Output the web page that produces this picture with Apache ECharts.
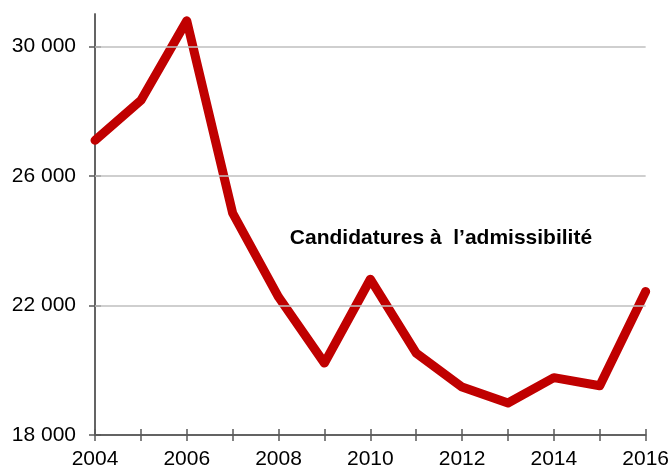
<!DOCTYPE html>
<html>
<head>
<meta charset="utf-8">
<script src="https://cdn.jsdelivr.net/npm/echarts@6/dist/echarts.min.js"></script>
<style>
    html, body {
        margin: 0;
        padding: 0;
        background: #fff;
    }
    #chart {
        width: 672px;
        height: 471px;
    }
</style>
</head>
<body>
<div id="chart"></div>
<script>
    var years = ['2004', '2005', '2006', '2007', '2008', '2009', '2010',
                 '2011', '2012', '2013', '2014', '2015', '2016'];
    var candidatures = [27100, 28330, 30790, 24850, 22260, 20220, 22810,
                        20530, 19480, 18990, 19770, 19520, 22430];
    var yTicks = [18000, 22000, 26000, 30000];
    var gridValues = [22000, 26000, 30000];
    var seriesName = 'Candidatures à  l’admissibilité';

    var axisGray = '#5a5a5a';
    var font = '"Liberation Sans", Arial, sans-serif';

    function fmt(v) {
        return String(v).replace(/\B(?=(\d{3})+(?!\d))/g, ' ');
    }

    var Chart = echarts.init(document.getElementById('chart'), null, {renderer: 'canvas'});

    var xBase = {
        type: 'category',
        data: years,
        boundaryGap: false,
        position: 'bottom',
        axisLine: {show: true, lineStyle: {color: axisGray, width: 1.5}},
        splitLine: {show: false}
    };
    var yBase = {
        type: 'value',
        min: 18000,
        max: 31000,
        interval: 4000,
        position: 'left',
        axisLine: {show: true, lineStyle: {color: axisGray, width: 1.5}},
        splitLine: {show: false}
    };

    var option = {
        animation: false,
        backgroundColor: '#fff',
        grid: {left: 95, right: 26, top: 14, bottom: 36, containLabel: false},
        xAxis: [
            echarts.util.merge({
                axisTick: {show: true, inside: false, length: 6, interval: 0,
                    lineStyle: {color: axisGray, width: 1.5}},
                axisLabel: {interval: 1, margin: 14, color: '#000',
                    fontSize: 21, fontFamily: font}
            }, xBase, true),
            echarts.util.merge({
                axisTick: {show: true, inside: true, length: 6, interval: 0,
                    lineStyle: {color: axisGray, width: 1.5}},
                axisLabel: {show: false}
            }, xBase, true)
        ],
        yAxis: [
            echarts.util.merge({
                axisTick: {show: true, inside: false, length: 6, customValues: yTicks,
                    lineStyle: {color: axisGray, width: 1.5}},
                axisLabel: {margin: 19, color: '#000', fontSize: 21, fontFamily: font,
                    customValues: yTicks, formatter: fmt}
            }, yBase, true),
            echarts.util.merge({
                axisTick: {show: true, inside: true, length: 6, customValues: yTicks,
                    lineStyle: {color: axisGray, width: 1.5}},
                axisLabel: {show: false}
            }, yBase, true)
        ],
        graphic: [{
            type: 'text',
            x: 441,
            y: 238,
            style: {
                text: seriesName,
                font: 'bold 21px "Liberation Sans", Arial, sans-serif',
                fill: '#000',
                textAlign: 'center',
                textVerticalAlign: 'middle'
            }
        }],
        series: [
            {
                // gridlines only
                type: 'line',
                data: [],
                z: 1,
                silent: true,
                markLine: {
                    silent: true,
                    symbol: ['none', 'none'],
                    label: {show: false},
                    lineStyle: {color: '#bfbfbf', width: 1.5, type: 'solid'},
                    data: gridValues.map(function (v) { return {yAxis: v}; })
                }
            },
            {
                name: seriesName,
                type: 'line',
                data: candidatures,
                z: 3,
                symbol: 'none',
                clip: true,
                lineStyle: {color: '#c00000', width: 9, join: 'round', cap: 'round'}
            }
        ]
    };

    Chart.setOption(option);
</script>
</body>
</html>
